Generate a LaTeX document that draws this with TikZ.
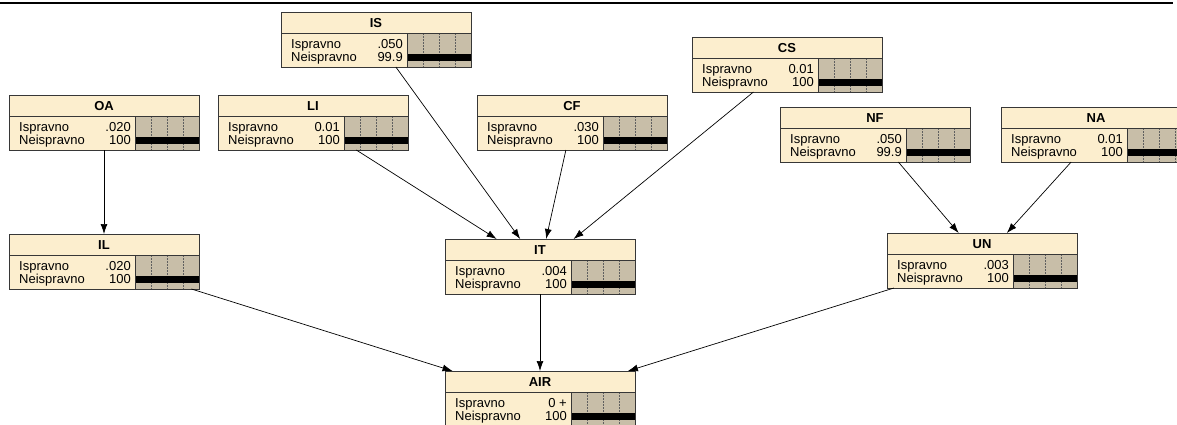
\documentclass[tikz,border=0pt]{standalone}
\usepackage{fontspec}
\setmainfont{Liberation Sans}
\usetikzlibrary{arrows.meta}
\definecolor{nbeige}{RGB}{252,238,206}
\definecolor{nbar}{RGB}{200,190,168}
\definecolor{nline}{RGB}{55,55,55}
\tikzset{
  nbox/.style={rectangle, draw=nline, fill=nbeige, line width=0.8pt, minimum width=190pt, minimum height=55pt, inner sep=0pt, outer sep=0pt},
  conn/.style={draw=black, line width=0.7pt, -{Latex[length=10pt,width=7pt]}},
  ttl/.style={font=\fontsize{13}{15}\selectfont\bfseries, anchor=base, inner sep=0pt},
  lbl/.style={font=\fontsize{13}{15}\selectfont, anchor=base west, inner sep=0pt},
  val/.style={font=\fontsize{13}{15}\selectfont, anchor=base east, inner sep=0pt},
  divl/.style={draw=nline!80, line width=0.5pt, dash pattern=on 1.5pt off 1.5pt},
}
\newcommand\netnode[6]{%
  \node[nbox] (#1) at (#2+95,#3+27.5) {};
  \begin{scope}[shift={(#1.north west)}]
    \fill[nbar] (126,21) rectangle (190,55);
    \foreach \dx in {142,158,174} \draw[divl] (\dx,21) -- (\dx,55);
    \fill[black] (126,42) rectangle (190,49);
    \draw[nline, line width=0.8pt] (0,21) -- (190,21) (126,21) -- (126,55);
    \draw[nline, line width=0.8pt] (0,0) rectangle (190,55);
    \node[ttl] (#1-t) at (95,15) {#4};
    \node[lbl] (#1-a) at (10,36) {Ispravno};
    \node[lbl] (#1-b) at (10,49) {Neispravno};
    \node[val] (#1-va) at (122,36) {#5};
    \node[val] (#1-vb) at (122,49) {#6};
  \end{scope}
}
\begin{document}
\begin{tikzpicture}[x=1pt,y=-1pt]
\useasboundingbox (0,0) rectangle (1177,424);
\clip (0,0) rectangle (1177,424);
\fill[white] (0,0) rectangle (1177,424);
\draw[line width=1.5pt] (0,3) -- (1173,3);
\netnode{IS}{281}{12}{IS}{.050}{99.9}
\netnode{CS}{692}{37}{CS}{0.01}{100}
\netnode{OA}{9}{95}{OA}{.020}{100}
\netnode{LI}{218}{95}{LI}{0.01}{100}
\netnode{CF}{477}{95}{CF}{.030}{100}
\netnode{NF}{780}{107}{NF}{.050}{99.9}
\netnode{NA}{1001}{107}{NA}{0.01}{100}
\netnode{IL}{9}{234}{IL}{.020}{100}
\netnode{IT}{445}{239}{IT}{.004}{100}
\netnode{UN}{887}{233}{UN}{.003}{100}
\netnode{AIR}{445}{371}{AIR}{0 +}{100}
\draw[conn] (OA) -- (IL);
\draw[conn] (IS) -- (IT);
\draw[conn] (LI) -- (IT);
\draw[conn] (CF) -- (IT);
\draw[conn] (CS) -- (IT);
\draw[conn] (NF) -- (UN);
\draw[conn] (NA) -- (UN);
\draw[conn] (IL) -- (AIR);
\draw[conn] (IT) -- (AIR);
\draw[conn] (UN) -- (AIR);
\end{tikzpicture}
\end{document}
